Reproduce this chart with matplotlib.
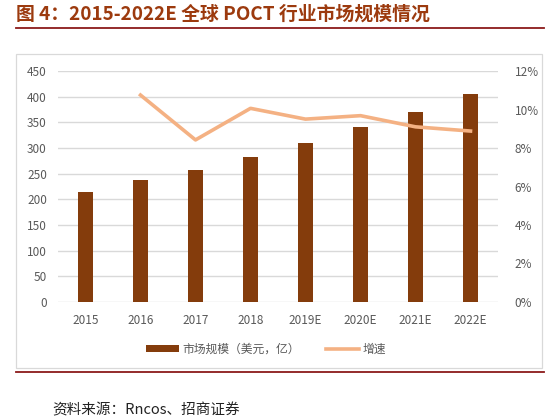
import numpy as np
import matplotlib
matplotlib.use("Agg")
import matplotlib.pyplot as plt
from matplotlib.lines import Line2D
from matplotlib.patches import Rectangle

plt.rcParams['font.family'] = ['Noto Sans CJK SC', 'DejaVu Sans']

years = ['2015', '2016', '2017', '2018', '2019E', '2020E', '2021E', '2022E']
market = [215, 238, 258, 283, 310, 341, 371, 405]
growth = [np.nan, 10.75, 8.42, 10.06, 9.5, 9.68, 9.1, 8.88]  # %

bar_color = '#843C0C'
line_color = '#F4B183'
tick_color = '#595959'
title_color = '#9C3A0E'

fig = plt.figure(figsize=(5.54, 4.19), dpi=100)
W, H = 554, 419

def fx(x):
    return x / W

def fy(y):
    return 1 - y / H

# title + decoration lines
fig.text(fx(16), fy(14), '图 4：2015-2022E 全球 POCT 行业市场规模情况',
         fontsize=13.6, fontweight='bold', color=title_color, va='center', ha='left')
fig.add_artist(Line2D([fx(16), fx(544)], [fy(28.5), fy(28.5)], color='#8B1A1A', lw=1.3))
fig.add_artist(Rectangle((fx(16), fy(368)), fx(542) - fx(16), fy(54) - fy(368),
                         fill=False, edgecolor='#D9D9D9', lw=0.9))
fig.add_artist(Line2D([fx(16), fx(544)], [fy(371.5), fy(371.5)], color='#8B1A1A', lw=1.3))
fig.text(fx(52), fy(410), '资料来源：Rncos、招商证券', fontsize=10.5, color='#222222',
         va='center', ha='left')

ax = fig.add_axes([fx(58), fy(302), fx(498) - fx(58), fy(71) - fy(302)])
x = np.arange(len(years))
ax.bar(x, market, width=0.29, color=bar_color, zorder=3, label='市场规模（美元，亿）')
ax.set_xlim(-0.5, len(years) - 0.5)
ax.set_ylim(0, 450)
ax.set_yticks(np.arange(0, 451, 50))
ax.set_xticks(x)
ax.set_xticklabels(years)
ax.grid(axis='y', color='#D9D9D9', lw=1, zorder=0)
for s in ax.spines.values():
    s.set_visible(False)
ax.tick_params(length=0, colors=tick_color, labelsize=8.5)
ax.tick_params(axis='y', pad=8)
ax.tick_params(axis='x', pad=9)

ax2 = ax.twinx()
ax2.plot(x, growth, color=line_color, lw=2.6, zorder=4, label='增速')
ax2.set_ylim(0, 12)
ax2.set_yticks(np.arange(0, 13, 2))
ax2.set_yticklabels([f'{v}%' for v in range(0, 13, 2)])
for s in ax2.spines.values():
    s.set_visible(False)
ax2.tick_params(length=0, colors=tick_color, labelsize=8.5, pad=12)

h1, l1 = ax.get_legend_handles_labels()
h2, l2 = ax2.get_legend_handles_labels()
fig.legend(h1 + h2, l1 + l2, loc='center', bbox_to_anchor=(fx(266), fy(349)), ncol=2,
           frameon=False, fontsize=8.5, labelcolor=tick_color, handlelength=2.8,
           handleheight=0.6, columnspacing=2.2, handletextpad=0.3)

fig.savefig('out.png', dpi=100)
